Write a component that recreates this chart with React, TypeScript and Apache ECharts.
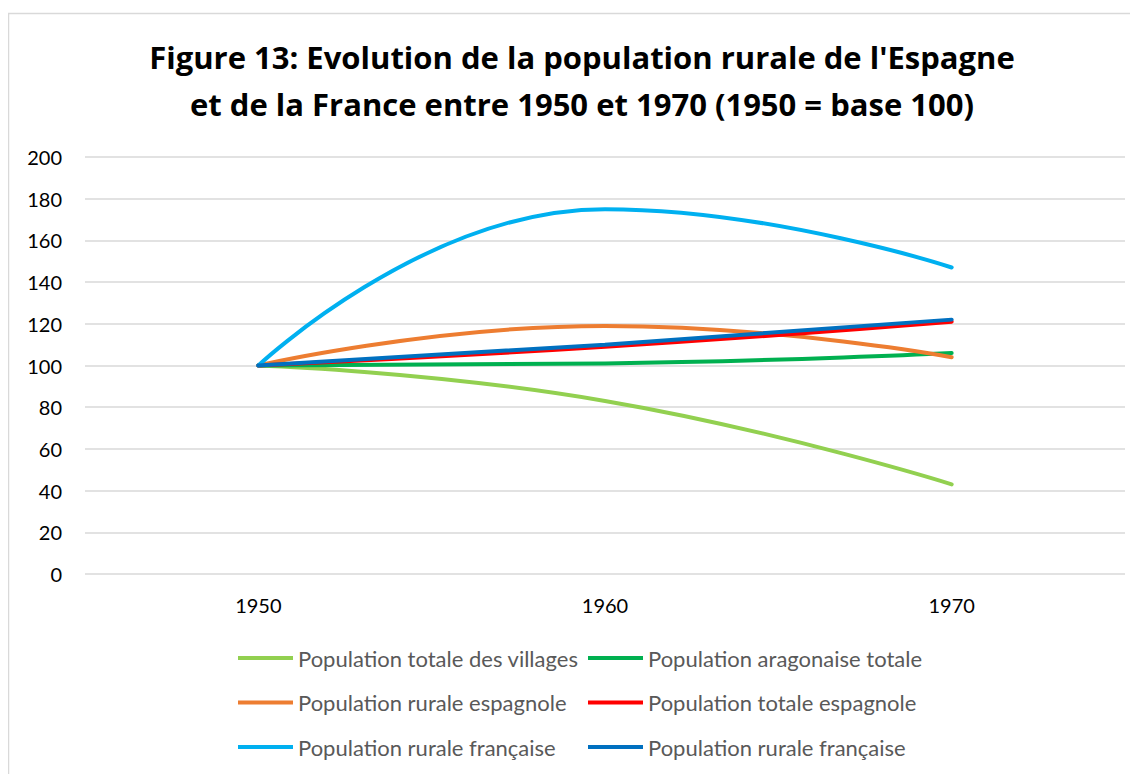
import React, { useEffect, useRef } from "react";
import * as echarts from "echarts";

const years = ["1950", "1960", "1970"];
const villages = [100, 83, 43];
const aragonaise = [100, 101, 106];
const ruraleEsp = [100, 119, 104];
const totaleEsp = [100, 109, 121];
const ruraleFr = [100, 175, 147];
const ruraleFr2 = [100, 110, 122];

const names = [
  "Population totale des villages",
  "Population aragonaise totale",
  "Population rurale espagnole",
  "Population totale espagnole",
  "Population rurale française",
  "Population rurale française ",
];
const colors = ["#92D050", "#00B050", "#ED7D31", "#FF0000", "#00B0F0", "#0070C0"];
const seriesData = [villages, aragonaise, ruraleEsp, totaleEsp, ruraleFr, ruraleFr2];

const FONT = "Lato, 'Open Sans', sans-serif";
const TITLE_FONT = "'Open Sans', Lato, sans-serif";

export default function App() {
  const ref = useRef<HTMLDivElement>(null);
  useEffect(() => {
    const chart = echarts.init(ref.current!, null, { renderer: "svg" });
    const legendCommon = {
      orient: "vertical",
      top: 639,
      padding: 0,
      itemWidth: 55,
      itemHeight: 22,
      itemGap: 22.5,
      icon: "path://M0,9 L55,9 L55,13 L0,13 Z",
      textStyle: { color: "#595959", fontSize: 22, fontFamily: FONT, lineHeight: 22 },
      selectedMode: false,
    };
    chart.setOption({
      animation: false,
      backgroundColor: "#fff",
      textStyle: { fontFamily: FONT },
      graphic: [
        {
          type: "rect",
          shape: { x: 0.5, y: 5.5, width: 1200, height: 900 },
          style: { fill: "none", stroke: "#d9d9d9", lineWidth: 1.5 },
          silent: true,
        },
        {
          type: "text",
          x: 574,
          y: 25,
          style: {
            text: "Figure 13: Evolution de la population rurale de l'Espagne\net de la France entre 1950 et 1970 (1950 = base 100)",
            font: `bold 31px ${TITLE_FONT}`,
            fill: "#000",
            align: "center",
            lineHeight: 47,
          },
        },
      ],
      legend: [
        { ...legendCommon, left: 230, data: [names[0], names[2], names[4]] },
        { ...legendCommon, left: 580, data: [names[1], names[3], names[5]] },
      ],
      grid: { left: 77, right: 13, top: 149, bottom: 200, containLabel: false },
      xAxis: {
        type: "category",
        data: years,
        boundaryGap: true,
        axisLine: { show: false },
        axisTick: { show: false },
        axisLabel: { color: "#000", fontSize: 20, fontFamily: FONT, margin: 21 },
      },
      yAxis: {
        type: "value",
        min: 0,
        max: 200,
        interval: 20,
        axisLine: { show: false },
        axisTick: { show: false },
        axisLabel: { color: "#000", fontSize: 20, fontFamily: FONT, margin: 23 },
        splitLine: { lineStyle: { color: "#d9d9d9", width: 1.5 } },
      },
      series: seriesData.map((d, i) => ({
        name: names[i],
        type: "line",
        data: d,
        smooth: 0.5,
        symbol: "none",
        color: colors[i],
        lineStyle: { width: 4, color: colors[i], cap: "round" },
      })),
    });
    return () => chart.dispose();
  }, []);
  return <div ref={ref} style={{ width: 1130, height: 766 }} />;
}
